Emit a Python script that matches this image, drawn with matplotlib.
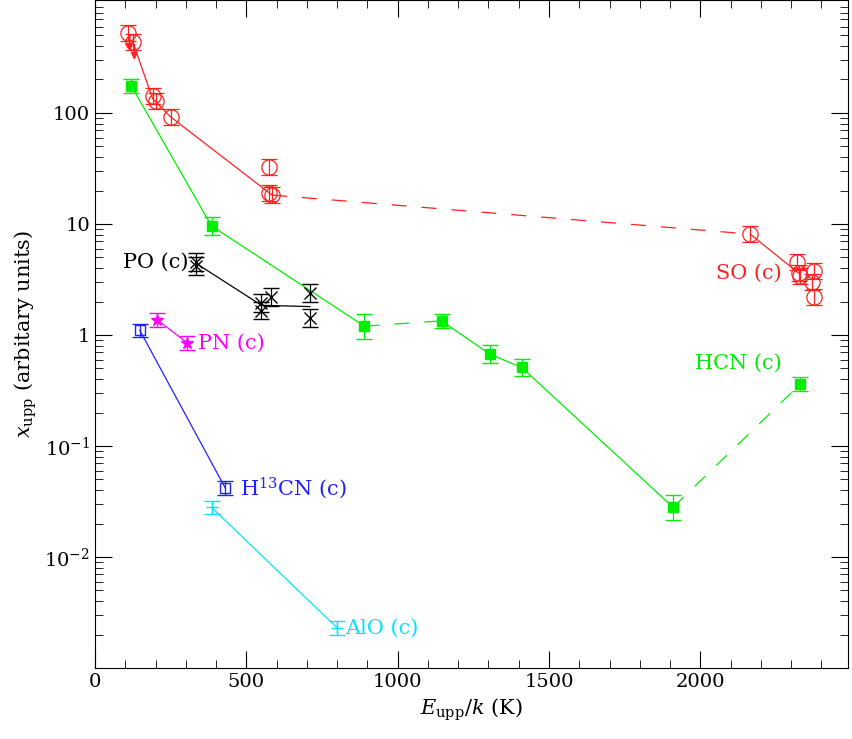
import matplotlib
matplotlib.use("Agg")
import matplotlib.pyplot as plt
from matplotlib.ticker import FixedLocator, FixedFormatter, LogLocator, NullFormatter

plt.rcParams["font.family"] = "DejaVu Serif"
plt.rcParams["mathtext.fontset"] = "dejavuserif"

# data (E_upp/k in K, x_upp)
so_x = [110, 125, 190, 200, 250, 575, 575, 585, 2165, 2320, 2325, 2330, 2375, 2370, 2375]
so_y = [525, 436, 142, 128, 92, 32.6, 19.0, 18.2, 8.1, 4.5, 3.6, 3.4, 3.8, 3.0, 2.2]
so_lim = [True, True] + [False] * 13
so_line1_x = [125, 190, 250, 585]
so_line1_y = [436, 135, 92, 18.2]
so_dash_x = [585, 2165]
so_dash_y = [18.2, 8.1]
so_line2_x = [2165, 2325]
so_line2_y = [8.1, 3.6]

hcn_x = [120, 385, 890, 1145, 1305, 1410, 1910, 2330]
hcn_y = [175, 9.6, 1.2, 1.34, 0.67, 0.51, 0.028, 0.36]
hcn_err = [0.15, 0.2, 0.3, 0.15, 0.2, 0.2, 0.3, 0.15]

po_x = [335, 335, 550, 550, 580, 710, 710]
po_y = [4.55, 4.2, 1.94, 1.66, 2.2, 2.4, 1.42]
po_line_x = [335, 550, 710]
po_line_y = [4.4, 1.85, 1.8]

pn_x = [205, 305]
pn_y = [1.37, 0.85]

h13cn_x = [148, 430]
h13cn_y = [1.1, 0.042]

alo_x = [385, 800]
alo_y = [0.028, 0.0023]


def errs(y, f=0.15):
    return [[v * f / (1 + f) for v in y], [v * f for v in y]]


fig = plt.figure(figsize=(8.52, 7.39), dpi=100)
ax = fig.add_axes([95 / 852, 71 / 739, 753 / 852, 668 / 739])
ax.set_yscale("log")
ax.set_xlim(0, 2488)
ax.set_ylim(1e-3, 1040)

lw = 0.9
# SO
red = "#ff2020"
ax.plot(so_line1_x, so_line1_y, color=red, lw=lw)
ax.plot(so_dash_x, so_dash_y, color=red, lw=lw, dashes=(12, 12))
ax.plot(so_line2_x, so_line2_y, color=red, lw=lw)
ax.errorbar(so_x, so_y, yerr=errs(so_y, 0.18), fmt="o", ms=11, mfc="none", mec=red,
            ecolor=red, elinewidth=lw, capsize=6, color=red, mew=0.9)
for x, y, lim in zip(so_x, so_y, so_lim):
    if lim:
        ax.annotate("", xy=(x + 5, y * 0.65), xytext=(x + 5, y),
                    arrowprops=dict(arrowstyle="-|>", color=red, lw=1.2))

# HCN
green = "#00ee00"
ax.plot(hcn_x[:3], hcn_y[:3], color=green, lw=lw)
ax.plot(hcn_x[2:4], hcn_y[2:4], color=green, lw=lw, dashes=(12, 12))
ax.plot(hcn_x[3:7], hcn_y[3:7], color=green, lw=lw)
ax.plot(hcn_x[6:], hcn_y[6:], color=green, lw=lw, dashes=(12, 12))
ax.errorbar(hcn_x, hcn_y, yerr=[[v * f / (1 + f) for v, f in zip(hcn_y, hcn_err)],
                                [v * f for v, f in zip(hcn_y, hcn_err)]],
            fmt="s", ms=7, color=green, ecolor=green, elinewidth=lw, capsize=6)

# PO
ax.plot(po_line_x, po_line_y, color="black", lw=lw)
ax.errorbar(po_x, po_y, yerr=errs(po_y, 0.2), fmt="x", ms=9, color="black",
            elinewidth=lw, capsize=6)

# PN
mag = "#ff00ff"
ax.plot(pn_x, pn_y, color=mag, lw=lw)
ax.errorbar(pn_x, pn_y, yerr=errs(pn_y, 0.15), fmt="*", ms=9, color=mag,
            elinewidth=lw, capsize=6)

# H13CN
blue = "#2020ff"
ax.plot(h13cn_x, h13cn_y, color=blue, lw=lw)
ax.errorbar(h13cn_x, h13cn_y, yerr=errs(h13cn_y, 0.15), fmt="s", ms=7, mfc="none",
            color=blue, elinewidth=lw, capsize=6)

# AlO
cyan = "#00e5ff"
ax.plot(alo_x, alo_y, color=cyan, lw=lw)
ax.errorbar(alo_x, alo_y, yerr=errs(alo_y, 0.15), fmt="+", ms=9, color=cyan,
            elinewidth=lw, capsize=6)

fs = 15
ax.text(310, 4.5, "PO (c)", color="black", fontsize=fs, ha="right", va="center")
ax.text(340, 0.85, "PN (c)", color=mag, fontsize=fs, va="center")
ax.text(480, 0.042, "H$^{13}$CN (c)", color=blue, fontsize=fs, va="center")
ax.text(825, 0.0023, "AlO (c)", color=cyan, fontsize=fs, va="center")
ax.text(2270, 3.6, "SO (c)", color=red, fontsize=fs, ha="right", va="center")
ax.text(2270, 0.55, "HCN (c)", color=green, fontsize=fs, ha="right", va="center")

ax.yaxis.set_major_locator(FixedLocator([1e-2, 1e-1, 1, 10, 100]))
ax.yaxis.set_major_formatter(FixedFormatter(["10$^{-2}$", "10$^{-1}$", "1", "10", "100"]))
ax.yaxis.set_minor_locator(LogLocator(base=10, subs=range(2, 10)))
ax.yaxis.set_minor_formatter(NullFormatter())
ax.set_xticks([0, 500, 1000, 1500, 2000])
ax.set_xticks(range(0, 2500, 100), minor=True)
ax.tick_params(which="both", direction="in", top=True, right=True, labelsize=14)
ax.tick_params(which="major", length=12)
ax.tick_params(which="minor", length=6)

ax.set_xlabel("$E_{\\rm upp}/k$ (K)", fontsize=15)
ax.set_ylabel("$x_{\\rm upp}$ (arbitary units)", fontsize=15)

fig.savefig("out.png", dpi=100)
